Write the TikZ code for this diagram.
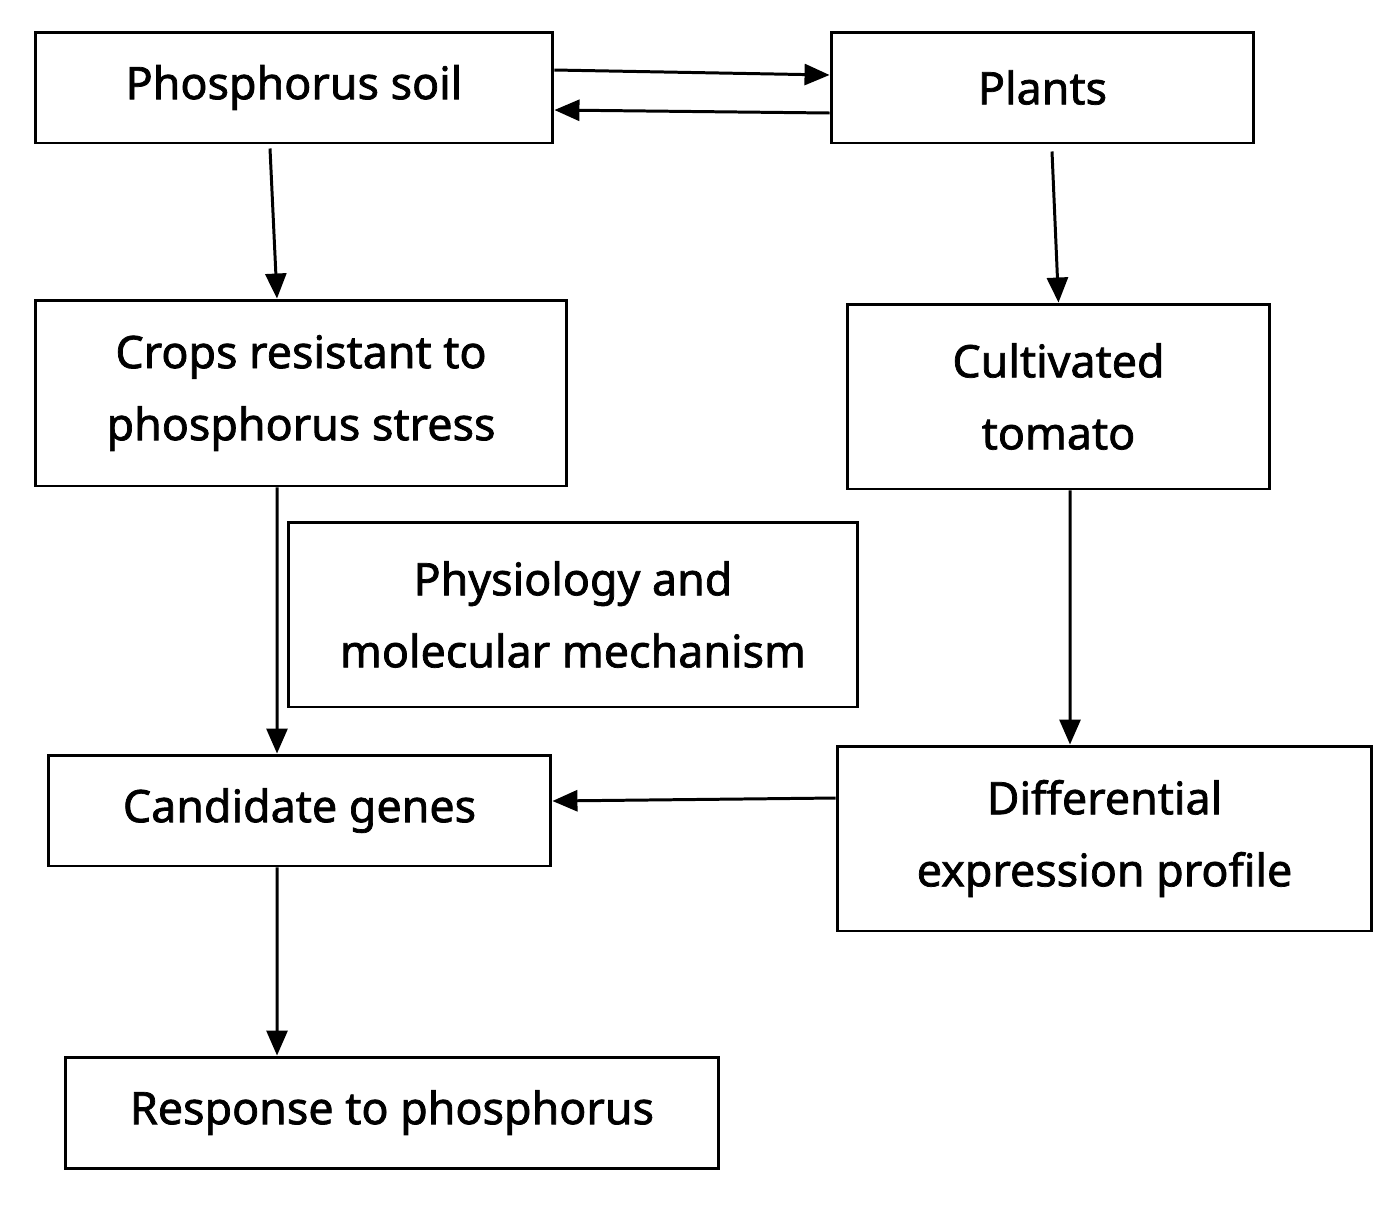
\documentclass[tikz,border=0pt]{standalone}
\usepackage{fontspec}
\setmainfont{Noto Sans}[FakeBold=1.6]
\usetikzlibrary{arrows.meta,calc}
\begin{document}
\begin{tikzpicture}[x=0.02cm,y=-0.02cm,
  box/.style={draw,line width=1.7pt,inner sep=0pt,align=center,font=\fontsize{25.5}{41}\selectfont},
  arr/.style={line width=1.7pt,-{Triangle[length=0.5cm,width=0.42cm]}}]
\useasboundingbox (0,0) rectangle (1400,1208);
\node[box,minimum width=10.36cm,minimum height=2.22cm] (soil) at (294,87.5) {Phosphorus soil};
\node[box,minimum width=8.46cm,minimum height=2.22cm] (plants) at (1042.5,87.5) {Plants};
\node[box,minimum width=10.64cm,minimum height=3.72cm] (crops) at (301,393) {Crops resistant to\\phosphorus stress};
\node[box,minimum width=8.46cm,minimum height=3.7cm] (tomato) at (1058.5,396.5) {Cultivated\\tomato};
\node[box,minimum width=11.4cm,minimum height=3.7cm] (phys) at (573,614.5) {Physiology and\\molecular mechanism};
\node[box,minimum width=10.06cm,minimum height=2.22cm] (cand) at (299.5,810.5) {Candidate genes};
\node[box,minimum width=10.7cm,minimum height=3.7cm] (diff) at (1104.5,838.5) {Differential\\expression profile};
\node[box,minimum width=13.08cm,minimum height=2.22cm] (resp) at (392,1112.5) {Response to phosphorus};
\draw[arr] ([yshift=0.35cm]soil.east) -- ([yshift=0.25cm]plants.west);
\draw[arr] ([yshift=-0.51cm]plants.west) -- ([yshift=-0.45cm]soil.east);
\draw[arr] ([xshift=-0.48cm,yshift=-0.08cm]soil.south) -- ([xshift=-0.48cm]crops.north);
\draw[arr] ([xshift=0.19cm,yshift=-0.14cm]plants.south) -- (tomato.north);
\draw[arr] ([xshift=-0.48cm]crops.south) -- ([xshift=-0.45cm]cand.north);
\draw[arr] ([xshift=0.23cm]tomato.south) -- ([xshift=-0.69cm]diff.north);
\draw[arr] ([yshift=0.81cm]diff.west) -- ([yshift=0.19cm]cand.east);
\draw[arr] ([xshift=-0.45cm]cand.south) -- ([xshift=-2.3cm]resp.north);
\end{tikzpicture}
\end{document}
